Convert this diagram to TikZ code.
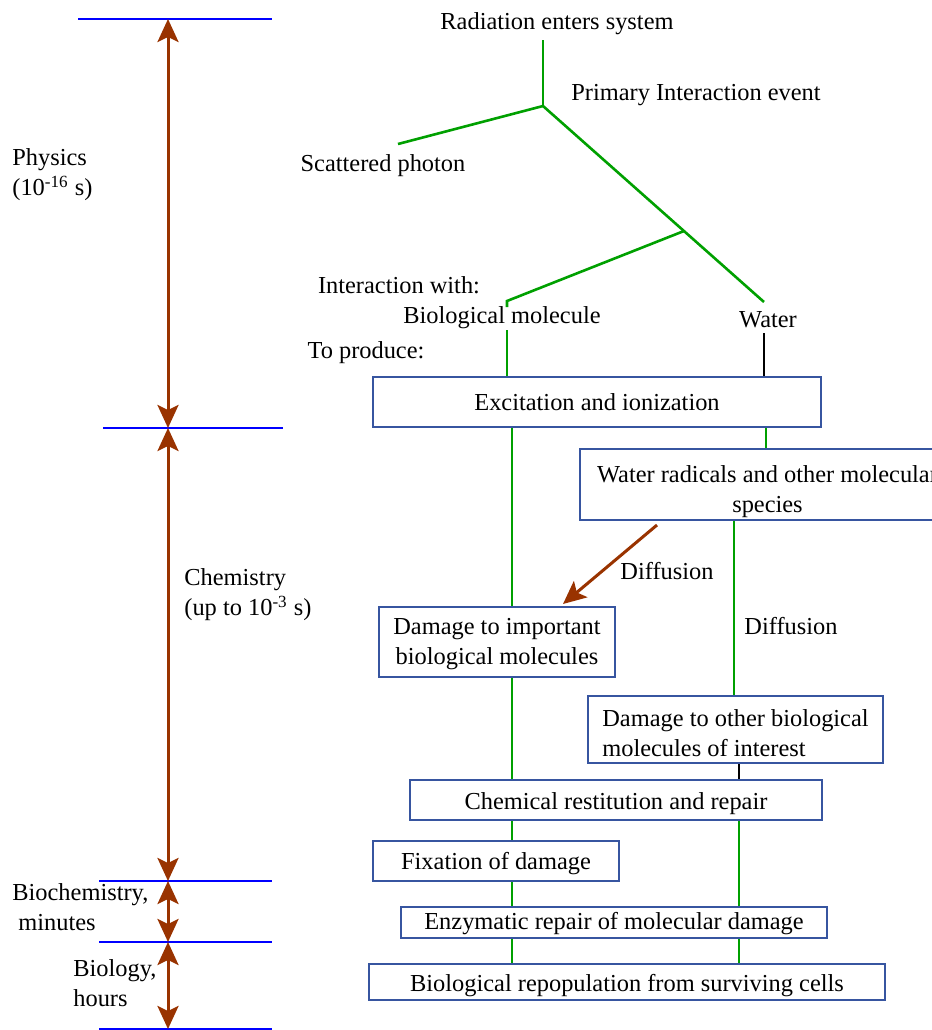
\documentclass[tikz,border=0pt]{standalone}
\usepackage{fontspec}
\setmainfont{Liberation Serif}
\usetikzlibrary{arrows.meta}
\definecolor{stepgreen}{RGB}{0,160,0}
\definecolor{boxblue}{RGB}{55,85,160}
\definecolor{timebrown}{RGB}{153,51,0}
\tikzset{
  stage/.style = {draw=boxblue, line width=1.4pt, inner sep=0pt, align=center},
  lbl/.style   = {inner sep=0pt, align=center},
  link/.style  = {draw=stepgreen, line width=1.3pt},
  blink/.style = {draw=black, line width=1.3pt},
  bound/.style = {draw=blue, line width=1.3pt},
  tip/.tip     = {Stealth[length=11.5pt, width=10.5pt, inset=2.5pt]},
  epoch/.style = {draw=timebrown, line width=1.5pt, tip-tip},   % time spans
  diff/.style  = {draw=timebrown, line width=1.5pt, -tip},
}
\newcommand{\lowr}[1]{\rule{0pt}{#1}}   % pushes box text down a little

\begin{document}
\begin{tikzpicture}[x=0.5pt, y=-0.5pt, font=\fontsize{12.2}{15}\selectfont]
  \clip (0,0) rectangle (932,1030);

  % time scale on the left
  \coordinate (t0) at (168,  19);
  \coordinate (t1) at (168, 428);
  \coordinate (t2) at (168, 881);
  \coordinate (t3) at (168, 942);
  \coordinate (t4) at (168,1029);
  \draw[bound] (78,19)   -- (272,19);
  \draw[bound] (103,428) -- (283,428);
  \draw[bound] (99,881)  -- (272,881);
  \draw[bound] (99,942)  -- (272,942);
  \draw[bound] (99,1029) -- (272,1029);
  \draw[epoch] (t0) -- (t1);
  \draw[epoch] (t1) -- (t2);
  \draw[epoch] (t2) -- (t3);
  \draw[epoch] (t3) -- (t4);

  \node[lbl, align=left, anchor=west] at ( 12, 175) (phys)  {Physics\\(10\textsuperscript{-16} s)};
  \node[lbl, align=left, anchor=west] at (184, 595) (chem)  {Chemistry\\(up to 10\textsuperscript{-3} s)};
  \node[lbl, align=left, anchor=west] at ( 12, 907) (bioch) {Biochemistry,\\\hspace{3pt}minutes};
  \node[lbl, align=left, anchor=west] at ( 73, 983) (biolo) {Biology,\\hours};

  % interaction tree
  \node[lbl] at (557, 24) (rad)   {Radiation enters system};
  \node[lbl] at (696, 95) (prim)  {Primary Interaction event};
  \node[lbl] at (383,166) (scatl) {Scattered photon};
  \node[lbl] at (399,285) (inter) {Interaction with:};
  \node[lbl] at (502,318) (biol)  {Biological molecule};
  \node[lbl] at (768,320) (water) {Water};
  \node[lbl] at (366,353) (prod)  {To produce:};

  \coordinate (entry) at (543, 40);
  \coordinate (hit)   at (543,106);
  \coordinate (scat)  at (398,144);
  \coordinate (fork)  at (684,231);
  \coordinate (wat)   at (764,302);
  \coordinate (bio)   at (507,301);
  \coordinate (bioin) at (507,330);
  \coordinate (watin) at (764,333);

  % stages
  \node[stage, minimum width=224pt,   minimum height=25pt]   at (597,402)   (exc)   {Excitation and ionization};
  \node[stage, minimum width=187.5pt, minimum height=35.5pt] at (767.5,484.5) (wrad) {\lowr{15.3pt}Water radicals and other molecular\\species};
  \node[stage, minimum width=118pt,   minimum height=35pt]   at (497,642)   (dimp)  {\lowr{10.3pt}Damage to important\\biological molecules};
  \node[stage, minimum width=147.5pt, minimum height=33.5pt, align=left] at (735.5,729.5) (doth) {\lowr{12.3pt}Damage to other biological\\molecules of interest};
  \node[stage, minimum width=206pt,   minimum height=20pt]   at (616,800)   (restit) {\lowr{12.3pt}Chemical restitution and repair};
  \node[stage, minimum width=123pt,   minimum height=20pt]   at (496,861)   (fix)   {\lowr{11.3pt}Fixation of damage};
  \node[stage, minimum width=213pt,   minimum height=15.5pt] at (614,922.5) (enz)   {\lowr{9.3pt}Enzymatic repair of molecular damage};
  \node[stage, minimum width=258pt,   minimum height=18pt]   at (627,982)   (repop) {\lowr{12.3pt}Biological repopulation from surviving cells};

  \coordinate (lcol)  at (512,0);
  \coordinate (rcol)  at (739,0);
  \coordinate (wcol)  at (766,0);
  \coordinate (dcol)  at (734,0);
  \coordinate (dstart) at (657,525);
  \coordinate (dtip)   at (563,604);

  \draw[link] (entry) -- (hit);
  \draw[link] (hit) -- (scat);
  \draw[link] (hit) -- (wat);
  \draw[link] (fork) -- (bio) -- ++(0,6);
  \draw[link]  (bioin) -- (bioin |- exc.north);
  \draw[blink] (watin) -- (watin |- exc.north);

  \draw[link] (lcol |- exc.south) -- (lcol |- dimp.north);
  \draw[link] (wcol |- exc.south) -- (wcol |- wrad.north);
  \draw[diff] (dstart) -- (dtip);
  \node[lbl] at (667,571) (diff1) {Diffusion};
  \draw[link] (dcol |- wrad.south) -- (dcol |- doth.north);
  \node[lbl] at (791,626) (diff2) {Diffusion};
  \draw[link]  (lcol |- dimp.south) -- (lcol |- restit.north);
  \draw[blink] (rcol |- doth.south) -- (rcol |- restit.north);
  \draw[link] (lcol |- restit.south) -- (lcol |- fix.north);
  \draw[link] (rcol |- restit.south) -- (rcol |- enz.north);
  \draw[link] (lcol |- fix.south) -- (lcol |- enz.north);
  \draw[link] (lcol |- enz.south) -- (lcol |- repop.north);
  \draw[link] (rcol |- enz.south) -- (rcol |- repop.north);
\end{tikzpicture}
\end{document}
